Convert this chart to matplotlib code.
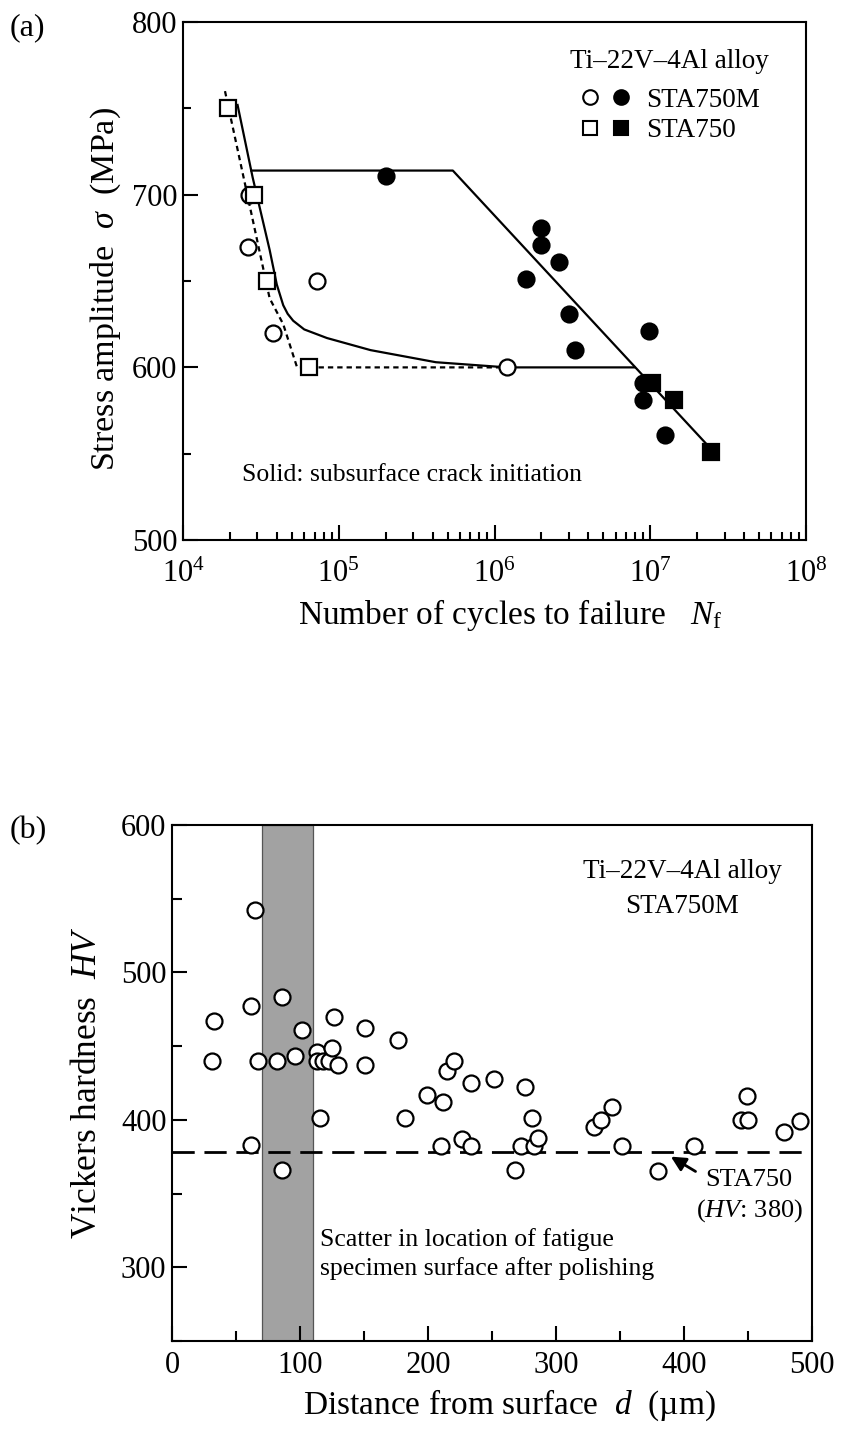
import matplotlib
matplotlib.use('Agg')
import matplotlib.pyplot as plt
from matplotlib.lines import Line2D
from matplotlib.legend_handler import HandlerTuple
from matplotlib.ticker import MultipleLocator, LogLocator, LogFormatterMathtext, NullFormatter

plt.rcParams['font.family'] = 'Liberation Serif'
plt.rcParams['mathtext.fontset'] = 'custom'
plt.rcParams['mathtext.rm'] = 'Liberation Serif'
plt.rcParams['mathtext.it'] = 'Liberation Serif:italic'
plt.rcParams['axes.linewidth'] = 1.5

# ---- (a) S-N data (cycles, stress amplitude MPa) ----
sta750m_open_n = [2.64e4, 2.63e4, 3.8e4, 7.2e4, 1.2e6]
sta750m_open_s = [700, 670, 620, 650, 600]
sta750m_solid_n = [2.0e5, 2.0e6, 2.0e6, 2.6e6, 1.6e6, 3.0e6, 3.3e6, 9.8e6, 9.0e6, 9.0e6, 1.24e7]
sta750m_solid_s = [711, 681, 671, 661, 651, 631, 610, 621, 591, 581, 561]
sta750_open_n = [1.95e4, 2.85e4, 3.45e4, 6.4e4]
sta750_open_s = [750, 700, 650, 600]
sta750_solid_n = [1.02e7, 1.43e7, 2.46e7]
sta750_solid_s = [591, 581, 551]

# hand-drawn trend lines of the original figure
surf_curve_n = [2.24e4, 2.8e4, 3.6e4, 4.0e4, 4.4e4, 4.7e4, 5.1e4, 6.0e4, 8.4e4,
                1.6e5, 4.2e5, 1.2e6, 7.9e6]
surf_curve_s = [752, 710, 668, 648, 636, 631, 627, 622, 617, 610, 603, 600, 600]
sub_line_n = [2.75e4, 5.4e5, 2.5e7]
sub_line_s = [714, 714, 552]
sta750_dot_n = [1.86e4, 3.6e4, 4.4e4, 5.4e4, 1.2e6]
sta750_dot_s = [760, 640, 625, 600, 600]

# ---- (b) hardness profile ----
dist = [31, 33, 62, 65, 62, 67, 82, 86, 86, 96, 102, 113, 113, 116, 118, 123, 125,
        127, 130, 151, 151, 177, 182, 199, 210, 212, 215, 220, 227, 234, 234, 252,
        268, 273, 276, 281, 283, 286, 330, 335, 344, 352, 380, 408, 445, 449, 450,
        478, 491]
hv = [440, 467, 477, 542, 383, 440, 440, 483, 366, 443, 461, 446, 440, 401, 440, 440, 449,
      470, 437, 462, 437, 454, 401, 417, 382, 412, 433, 440, 387, 382, 425, 428,
      366, 382, 422, 401, 382, 388, 395, 400, 409, 382, 365, 382, 400, 416, 400,
      392, 399]
band_d = [70, 110]
hv_sta750 = 378

fig = plt.figure(figsize=(8.43, 14.34), dpi=100)

# ================= (a) =================
ax = fig.add_axes([0.2171, 0.6234, 0.739, 0.3612])
ax.set_xscale('log')
ax.plot(surf_curve_n, surf_curve_s, color='black', lw=1.6, zorder=2)
ax.plot(sub_line_n, sub_line_s, color='black', lw=1.6, zorder=2)
ax.plot(sta750_dot_n, sta750_dot_s, color='black', lw=1.6, ls=(0, (2.4, 1.8)), zorder=2)

mk = dict(ms=11.5, mew=1.6, mec='black', ls='none', zorder=3)
ax.plot(sta750m_open_n, sta750m_open_s, marker='o', mfc='white', **mk)
ax.plot(sta750_open_n, sta750_open_s, marker='s', mfc='white', **mk)
ax.plot(sta750m_solid_n, sta750m_solid_s, marker='o', mfc='black', **mk)
ax.plot(sta750_solid_n, sta750_solid_s, marker='s', mfc='black', **mk)

ax.set_xlim(1e4, 1e8)
ax.set_ylim(500, 800)
ax.xaxis.set_major_locator(LogLocator(base=10, numticks=10))
ax.xaxis.set_major_formatter(LogFormatterMathtext())
ax.xaxis.set_minor_locator(LogLocator(base=10, subs=range(2, 10), numticks=20))
ax.xaxis.set_minor_formatter(NullFormatter())
ax.yaxis.set_major_locator(MultipleLocator(100))
ax.yaxis.set_minor_locator(MultipleLocator(50))
ax.tick_params(which='both', direction='in', top=False, right=False, labelsize=22, width=1.5)
ax.tick_params(which='major', length=11)
ax.tick_params(which='minor', length=5.5)
ax.tick_params(axis='x', which='major', pad=14)
ax.tick_params(axis='y', which='major', pad=4)
ax.set_xlabel(r'Number of cycles to failure   $N_\mathrm{f}$', fontsize=24)
ax.set_ylabel(r'Stress amplitude  $\sigma$  (MPa)', fontsize=24.5)
ax.xaxis.set_label_coords(0.525, -0.11)
ax.yaxis.set_label_coords(-0.096, 0.485)

lk = dict(ms=10.5, mew=1.5, mec='black', ls='none')
h_m = (Line2D([], [], marker='o', mfc='white', **lk), Line2D([], [], marker='o', mfc='black', **lk))
h_s = (Line2D([], [], marker='s', mfc='white', **lk), Line2D([], [], marker='s', mfc='black', **lk))
leg = ax.legend([h_m, h_s], ['STA750M', 'STA750'], handler_map={tuple: HandlerTuple(ndivide=None, pad=0.25)},
                loc='upper right', bbox_to_anchor=(0.975, 0.99), frameon=False, fontsize=19.5,
                title='Ti\u201322V\u20134Al alloy', title_fontsize=19.5, handlelength=2.0,
                handletextpad=0.5, labelspacing=0.2, borderpad=0.3)
leg._legend_box.sep = 10
ax.text(0.095, 0.125, 'Solid: subsurface crack initiation', transform=ax.transAxes,
        fontsize=18.5, va='center', ha='left')

# ================= (b) =================
bx = fig.add_axes([0.204, 0.0649, 0.759, 0.3598])
bx.axvspan(band_d[0], band_d[1], facecolor='#a2a2a2', edgecolor='#555555', lw=0.9, zorder=1)
bx.axhline(hv_sta750, color='black', lw=2, ls=(0, (8, 3.5)), zorder=2)
bx.plot(dist, hv, marker='o', mfc='white', mec='black', ms=11.5, mew=1.6, ls='none', zorder=3)
bx.set_xlim(0, 500)
bx.set_ylim(250, 600)
bx.xaxis.set_major_locator(MultipleLocator(100))
bx.xaxis.set_minor_locator(MultipleLocator(50))
bx.yaxis.set_major_locator(MultipleLocator(100))
bx.yaxis.set_minor_locator(MultipleLocator(50))
bx.tick_params(which='both', direction='in', top=False, right=False, labelsize=22, width=1.5)
bx.tick_params(which='major', length=11, pad=7)
bx.tick_params(which='minor', length=7)
bx.tick_params(axis='y', which='major', pad=4)
bx.set_xlabel('Distance from surface  $d$  (\u00b5m)', fontsize=24)
bx.set_ylabel('Vickers hardness  $HV$', fontsize=25.5, labelpad=12)
bx.xaxis.set_label_coords(0.528, -0.091)

bx.text(0.798, 0.876, 'Ti\u201322V\u20134Al alloy\nSTA750M', transform=bx.transAxes,
        fontsize=19.5, ha='center', va='center', linespacing=1.5)
bx.text(451, 348, 'STA750\n($HV$: 380)', fontsize=19, ha='center', va='center', linespacing=1.3)
bx.annotate('', xy=(388, 376), xytext=(411, 364),
            arrowprops=dict(arrowstyle='-|>', color='black', lw=2, mutation_scale=22))
bx.text(116, 309, 'Scatter in location of fatigue\nspecimen surface after polishing',
        fontsize=18.5, ha='left', va='center', linespacing=1.3)

fig.text(0.012, 0.9805, '(a)', fontsize=23, ha='left', va='center')
fig.text(0.012, 0.421, '(b)', fontsize=23, ha='left', va='center')

fig.savefig('out.png', dpi=100)
